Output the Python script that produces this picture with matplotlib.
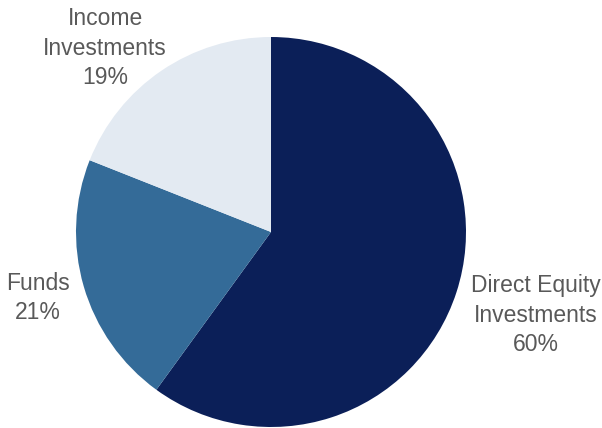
import matplotlib
matplotlib.use("Agg")
import matplotlib.pyplot as plt

# Portfolio composition
categories = ["Direct Equity\nInvestments", "Funds", "Income\nInvestments"]
shares = [60, 21, 19]
colors = ["#0b1f58", "#346b98", "#e3eaf2"]

W, H = 602, 428
fig = plt.figure(figsize=(W / 100, H / 100), dpi=100)
ax = fig.add_axes([0, 0, 1, 1])

ax.pie(shares, colors=colors, startangle=90, counterclock=False,
       center=(271, 196), radius=195, frame=True,
       wedgeprops=dict(linewidth=0))
ax.set_xlim(0, W)
ax.set_ylim(0, H)
ax.set_aspect("equal")
ax.axis("off")

label_pos = [(536, 113), (38, 130), (105, 380)]
for name, val, (x, y) in zip(categories, shares, label_pos):
    ax.text(x, y, f"{name}\n{val}%", ha="center", va="center",
            fontsize=16.5, color="#595959", linespacing=1.38,
            family=["Liberation Sans Narrow", "Liberation Sans", "DejaVu Sans"])

fig.savefig("out.png", dpi=100)
